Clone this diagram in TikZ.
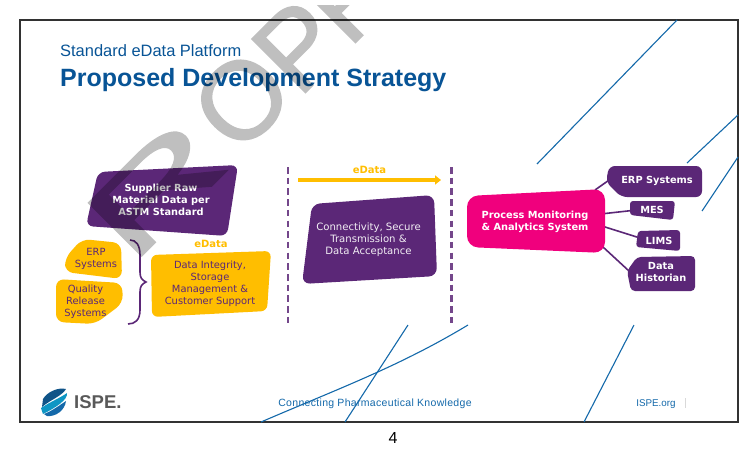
\documentclass[tikz,border=0pt]{standalone}
\usepackage{fontspec}
\setmainfont{Liberation Sans}
\newfontfamily\vfont{DejaVu Sans}
\newfontfamily\wma[FakeBold=1.4]{Liberation Sans}
\newfontfamily\wmb[FakeBold=0.9]{Liberation Sans}
\usetikzlibrary{arrows.meta}
\definecolor{ppl}{RGB}{91,39,119}
\definecolor{ylw}{RGB}{255,190,0}
\definecolor{pnk}{RGB}{240,0,125}
\definecolor{ttl}{RGB}{8,84,150}
\definecolor{bln}{RGB}{20,105,170}
\definecolor{frm}{RGB}{50,50,50}
\tikzset{
  pshape/.style={fill=ppl,rounded corners=#1},
  pshape/.default=6pt,
  yshape/.style={fill=ylw,rounded corners=#1},
  yshape/.default=6pt,
  wtxt/.style={text=white,font=\vfont\bfseries\fontsize{9.8}{12}\selectfont,align=center,inner sep=0pt},
  wltxt/.style={text=white!92!ppl,font=\vfont\fontsize{10.1}{12}\selectfont,align=center,inner sep=0pt},
  ytxt/.style={text=ppl,font=\vfont\fontsize{9.9}{12}\selectfont,align=center,inner sep=0pt},
  etxt/.style={text=ylw,font=\vfont\bfseries\fontsize{10}{12}\selectfont,inner sep=0pt},
  blueline/.style={draw=bln,line width=1.1pt},
  divider/.style={draw=ppl!85,line width=2.1pt,dash pattern=on 6.5pt off 4.2pt},
  link/.style={draw=ppl,line width=1.6pt},
  foot/.style={text=bln,font=\fontsize{10.5}{12}\selectfont\addfontfeature{LetterSpace=3},inner sep=0pt},
  wmark/.style={inner sep=0pt,rotate=45,text=black,font=\wma\fontsize{110}{110}\selectfont},
}
\begin{document}
\begin{tikzpicture}[x=1pt,y=-1pt]
\useasboundingbox (0,0) rectangle (750,450);
\fill[white] (0,0) rectangle (750,450);
% named connection points
\coordinate (fr1) at (20,20); \coordinate (fr2) at (738,422);
\coordinate (bl1a) at (537,164); \coordinate (bl1b) at (677,20);
\coordinate (bl2a) at (687,163); \coordinate (bl2b) at (738,115);
\coordinate (bl3a) at (702,211); \coordinate (bl3b) at (738,157);
\coordinate (bl4a) at (408,325); \coordinate (bl4b) at (345,422);
\coordinate (bl5a) at (468,325); \coordinate (bl5b) at (261,422);
\coordinate (bl6a) at (634,325); \coordinate (bl6b) at (584,422);
\coordinate (dv1a) at (288,167); \coordinate (dv1b) at (288,324);
\coordinate (dv2a) at (451.5,167); \coordinate (dv2b) at (451.5,324);
\coordinate (arA) at (298,180); \coordinate (arB) at (441,180);
% frame and decorative lines
\draw[frm,line width=1.3pt] (fr1) rectangle (fr2);
\draw[blueline] (bl1a) -- (bl1b);
\draw[blueline] (bl2a) -- (bl2b);
\draw[blueline] (bl3a) -- (bl3b);
\draw[blueline] (bl4a) -- (bl4b);
\draw[blueline] (bl5a) .. controls (400,366) and (340,388) .. (bl5b);
\draw[blueline] (bl6a) -- (bl6b);
% titles
\node[anchor=base west,inner sep=0pt,text=ttl,font=\fontsize{16.45}{18}\selectfont] (sub) at (60,56) {Standard eData Platform};
\node[anchor=base west,inner sep=0pt,text=ttl,font=\bfseries\fontsize{25}{28}\selectfont] (ttlnode) at (60,86) {Proposed Development Strategy};
% left column
\fill[pshape=7pt] (98,172) -- (238,165) -- (227,236) -- (86,226) -- cycle;
\node[wtxt] (sup) at (161,200) {Supplier Raw\\Material Data per\\ASTM Standard};
\fill[yshape=8pt] (82,239) -- (121,243) -- (122,279) -- (65,272) -- (65,258) -- cycle;
\node[ytxt] (erp) at (96,259) {ERP\\Systems};
\fill[yshape=8pt] (56,279) -- (122,283) -- (123,303) -- (95,324) -- (56,322) -- cycle;
\node[ytxt] (qual) at (85.5,302) {Quality\\Release\\Systems};
\fill[yshape=6pt] (151,255) -- (271,251) -- (267,311) -- (152,317) -- cycle;
\node[ytxt] (integ) at (210,284) {Data Integrity,\\Storage\\Management \&\\Customer Support};
\node[etxt] (ed1) at (211,243.5) {eData};
\coordinate (brT) at (130,240); \coordinate (brB) at (128,324); \coordinate (brM) at (146,282);
\draw[ppl,line width=1.6pt] (brT) .. controls (136,240) and (140,245) .. (140,255) -- (140,272)
  .. controls (140,278) and (142,280) .. (brM)
  .. controls (142,284) and (140,286) .. (140,292) -- (140,310)
  .. controls (140,320) and (135,324) .. (brB);
% dividers and arrow
\draw[divider] (dv1a) -- (dv1b);
\draw[divider] (dv2a) -- (dv2b);
\draw[ylw,line width=3.4pt,-{Triangle[length=6pt,width=9pt]}] (arA) -- (arB);
\node[etxt] (ed2) at (369.5,169.5) {eData};
% middle
\fill[pshape=8pt] (312,204) -- (434,195) -- (437,276) -- (302,284) -- cycle;
\node[wltxt] (conn) at (368.5,240) {Connectivity, Secure\\Transmission \&\\Data Acceptance};
% right connectors
\coordinate (lkERP) at (612,178);
\coordinate (pkERP) at (595,190);
\coordinate (pkMES) at (605,213.5);
\coordinate (lkMES) at (632,210.5);
\coordinate (pkLIMS) at (605,227);
\coordinate (lkLIMS) at (640,238);
\coordinate (pkDH) at (603,247);
\coordinate (lkDH) at (629,271);
\draw[link] (pkERP) -- (lkERP);
\draw[link] (pkMES) -- (lkMES);
\draw[link] (pkLIMS) -- (lkLIMS);
\draw[link] (pkDH) -- (lkDH);
% right shapes
\fill[fill=pnk,rounded corners=11pt] (467,196) -- (605,189) -- (605,253) -- (467,247) -- cycle;
\node[wtxt] (pm) at (535,222) {Process Monitoring\\\& Analytics System};
\fill[pshape=6pt] (609,166) -- (702,166) -- (702,197) -- (621,197) -- (606,182) -- cycle;
\node[wtxt] (nerp) at (657,180.5) {ERP Systems};
\fill[pshape=3pt] (630,201) -- (675,201) -- (673,220) -- (630,215) -- cycle;
\node[wtxt] (nmes) at (652,209.5) {MES};
\fill[pshape=3pt] (638,231) -- (680,230) -- (680,251) -- (636,247) -- cycle;
\node[wtxt] (nlims) at (659,240.5) {LIMS};
\fill[pshape=4pt] (637,257) -- (695,256) -- (695,291) -- (631,291) -- (627,271) -- cycle;
\node[wtxt] (ndh) at (661,272) {Data\\Historian};
% footer
\fill[bln!80!black] (43,399) .. controls (47,392) and (58,387) .. (66,389) .. controls (62,396) and (50,400) .. (42,407) -- cycle;
\fill[bln!70!cyan] (41,408) .. controls (50,402) and (60,398) .. (67,393) .. controls (68,400) and (55,408) .. (43,414) -- cycle;
\fill[bln] (44,414) .. controls (52,411) and (60,405) .. (66,401) .. controls (65,410) and (56,417) .. (47,416) -- cycle;
\node[anchor=base west,inner sep=0pt,text=black!65,font=\bfseries\fontsize{18.5}{20}\selectfont] (ispe) at (74,408.5) {ISPE.};
\node[foot] (fc) at (375,404) {Connecting Pharmaceutical Knowledge};
\node[inner sep=0pt,text=bln,font=\fontsize{9.8}{11}\selectfont] (fo) at (656,404) {ISPE.org};
\draw[black!15,line width=.6pt] (685,398) -- (685,408);
\node[inner sep=0pt,font=\fontsize{16}{18}\selectfont] (pg) at (393,438) {4};
% watermark
\begin{scope}[transparency group,opacity=.25]
\clip (0,5) rectangle (375,450);
\node[wmark,anchor=base west,font=\wmb\fontsize{110}{110}\selectfont] (wmR) at (130,268) {\scalebox{1.85}[1]{R}};
\node[wmark] (wmO) at (241.7,100) {O};
\node[wmark,anchor=base west] (wmP) at (299,99) {P};
\node[wmark,anchor=base west] (wmQ) at (349,49) {R};
\end{scope}
\end{tikzpicture}
\end{document}
